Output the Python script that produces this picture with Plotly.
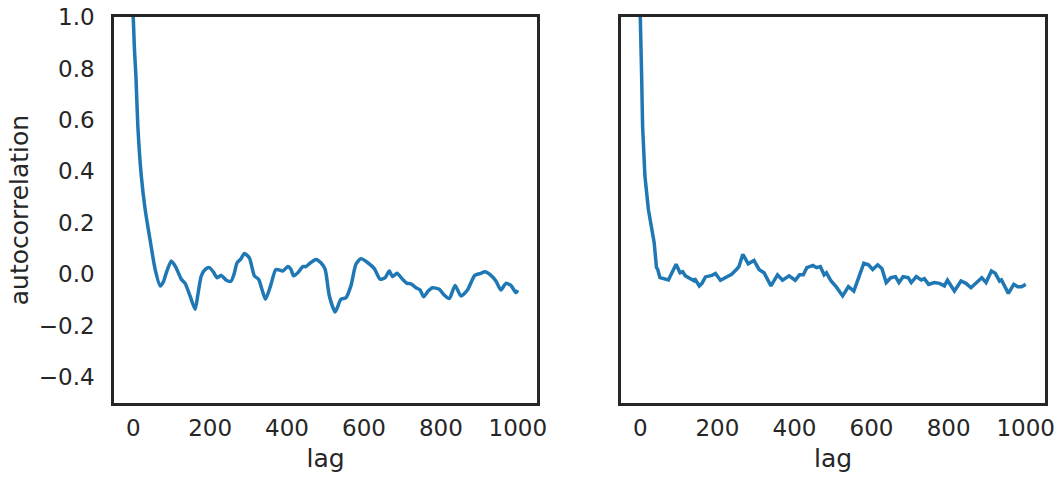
import plotly.graph_objects as go

# Left panel autocorrelation (lag, value)
left_lag = [0, 3, 7, 12, 21, 31, 45, 57, 70, 78, 86, 99, 110, 125, 135, 148, 161, 168, 177, 188,
            198, 208, 218, 229, 242, 254, 262, 270, 280, 289, 302, 315, 326, 335, 344, 358, 371, 389,
            402, 410, 417, 428, 441, 449, 461, 475, 488, 499, 510, 525, 540, 553, 566, 579, 592, 610,
            627, 642, 655, 666, 674, 686, 700, 712, 722, 735, 746, 755, 767, 778, 796, 807, 822, 837,
            852, 869, 888, 904, 914, 930, 943, 956, 969, 982, 995, 1000]
left_acf = [1.0, 0.88, 0.77, 0.576, 0.382, 0.252, 0.123, 0.019, -0.045, -0.03, 0.006, 0.052, 0.03,
            -0.019, -0.035, -0.085, -0.136, -0.08, -0.006, 0.02, 0.026, 0.01, -0.013, -0.004, -0.023,
            -0.027, 0.0, 0.045, 0.06, 0.081, 0.064, -0.006, -0.019, -0.06, -0.097, -0.04, 0.019, 0.013,
            0.03, 0.02, -0.006, 0.006, 0.03, 0.03, 0.045, 0.058, 0.045, 0.019, -0.084, -0.146, -0.097,
            -0.091, -0.045, 0.039, 0.061, 0.045, 0.022, -0.019, -0.013, 0.013, -0.009, 0.004, -0.019,
            -0.035, -0.037, -0.052, -0.061, -0.087, -0.065, -0.052, -0.058, -0.078, -0.094, -0.043,
            -0.084, -0.061, -0.004, 0.004, 0.010, -0.004, -0.026, -0.061, -0.035, -0.043, -0.071, -0.061]

# Right panel autocorrelation (lag, value)
right_lag = [0, 2, 3.5, 6, 12, 21, 29, 36, 42, 45, 51, 62, 73, 82, 93, 103, 110, 117, 130, 139, 141,
             153, 160, 169, 186, 195, 208, 221, 237, 250, 256, 266, 280, 295, 308, 321, 330, 339, 356,
             369, 386, 402, 413, 423, 432, 448, 457, 467, 477, 483, 495, 508, 525, 540, 554, 569, 580,
             592, 603, 616, 627, 638, 650, 662, 671, 682, 695, 703, 716, 729, 737, 748, 763, 776, 789,
             797, 815, 832, 845, 858, 873, 886, 897, 911, 921, 932, 937, 955, 969, 979, 989, 1000]
right_acf = [1.0, 0.92, 0.77, 0.576, 0.382, 0.252, 0.188, 0.123, 0.026, 0.02, -0.013, -0.016, -0.022,
             0.006, 0.039, 0.006, 0.01, -0.006, -0.016, -0.025, -0.016, -0.045, -0.035, -0.010, -0.004,
             0.003, -0.023, -0.013, 0.0, 0.02, 0.030, 0.078, 0.041, 0.054, 0.019, 0.006, -0.02, -0.045,
             -0.002, -0.023, -0.006, -0.023, -0.002, -0.002, 0.026, 0.035, 0.026, 0.030, -0.002, 0.006,
             -0.026, -0.048, -0.084, -0.048, -0.065, -0.006, 0.043, 0.037, 0.019, 0.037, 0.022, -0.032,
             -0.013, -0.009, -0.032, -0.009, -0.013, -0.032, -0.009, -0.022, -0.017, -0.039, -0.032,
             -0.035, -0.045, -0.023, -0.065, -0.026, -0.035, -0.052, -0.032, -0.013, -0.032, 0.013,
             0.004, -0.026, -0.022, -0.074, -0.039, -0.048, -0.048, -0.039]

x_ticks = [0, 200, 400, 600, 800, 1000]
y_ticks = [-0.4, -0.2, 0.0, 0.2, 0.4, 0.6, 0.8, 1.0]

LINE = "#1f77b4"
INK = "#262626"

fig = go.Figure()
fig.add_trace(go.Scatter(x=left_lag, y=left_acf, mode="lines", xaxis="x", yaxis="y",
                         line=dict(color=LINE, width=3.5, shape="spline", smoothing=0.6),
                         showlegend=False))
fig.add_trace(go.Scatter(x=right_lag, y=right_acf, mode="lines", xaxis="x2", yaxis="y2",
                         line=dict(color=LINE, width=3.5), showlegend=False))

axis_common = dict(showline=True, linecolor=INK, linewidth=2.5, mirror=True,
                   showgrid=False, zeroline=False, ticks="", automargin=False,
                   tickfont=dict(size=23, color=INK, family="DejaVu Sans"))

fig.update_layout(
    width=1064, height=484,
    margin=dict(l=114, r=19, t=17, b=81),
    paper_bgcolor="white", plot_bgcolor="white",
    font=dict(family="DejaVu Sans", color=INK),
    xaxis=dict(domain=[0, 0.4544], range=[-50, 1050], tickvals=x_ticks,
               ticklabelstandoff=3,
               title=dict(text="lag", font=dict(size=25, color=INK), standoff=10),
               **axis_common),
    yaxis=dict(range=[-0.5, 1.0], tickvals=y_ticks, tickformat=".1f",
               ticklabelstandoff=12,
               title=dict(text="autocorrelation", font=dict(size=25, color=INK), standoff=4),
               **axis_common),
    xaxis2=dict(domain=[0.5446, 1], range=[-50, 1050], tickvals=x_ticks, anchor="y2",
                ticklabelstandoff=3,
                title=dict(text="lag", font=dict(size=25, color=INK), standoff=10),
                **axis_common),
    yaxis2=dict(range=[-0.5, 1.0], tickvals=y_ticks, anchor="x2", matches="y",
                showticklabels=False, **axis_common),
)

fig.write_html("out.html")
